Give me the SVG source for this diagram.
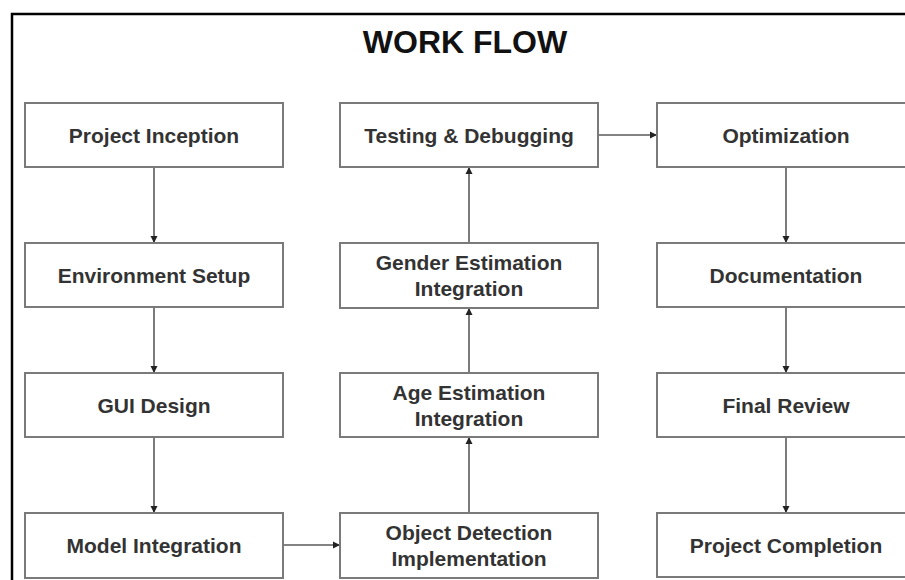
<svg xmlns="http://www.w3.org/2000/svg" width="905" height="580" viewBox="0 0 905 580">
<defs>
<style>
.box{fill:#fff;stroke:#7a7a7a;stroke-width:2}
.lbl{font-family:"Liberation Sans",Arial,sans-serif;font-weight:bold;font-size:21px;fill:#333;text-anchor:middle}
.title{font-family:"Liberation Sans",Arial,sans-serif;font-weight:bold;font-size:32px;fill:#111;text-anchor:middle}
.conn{stroke:#5a5a5a;stroke-width:1.6;fill:none;marker-end:url(#ah)}
</style>
<marker id="ah" viewBox="0 0 10 10" refX="10" refY="5" markerWidth="4.5" markerHeight="4.5" orient="auto" markerUnits="strokeWidth">
<path d="M0,0 L10,5 L0,10 z" fill="#222"/>
</marker>
</defs>
<rect width="905" height="580" fill="#fff"/>
<path d="M12,600 L12,14 L920,14" fill="none" stroke="#000" stroke-width="2.5"/>
<text class="title" x="465" y="53">WORK FLOW</text>

<g id="connectors">
<line class="conn" x1="154" y1="167" x2="154" y2="243"/>
<line class="conn" x1="154" y1="307" x2="154" y2="373"/>
<line class="conn" x1="154" y1="437" x2="154" y2="513"/>
<line class="conn" x1="283" y1="545" x2="340" y2="545"/>
<line class="conn" x1="469" y1="513" x2="469" y2="437"/>
<line class="conn" x1="469" y1="373" x2="469" y2="308"/>
<line class="conn" x1="469" y1="243" x2="469" y2="167"/>
<line class="conn" x1="598" y1="135" x2="657" y2="135"/>
<line class="conn" x1="786" y1="167" x2="786" y2="243"/>
<line class="conn" x1="786" y1="307" x2="786" y2="373"/>
<line class="conn" x1="786" y1="437" x2="786" y2="513"/>
</g>

<g id="project-inception"><rect class="box" x="25" y="103" width="258" height="64"/><text class="lbl" x="154" y="142.5">Project Inception</text></g>
<g id="environment-setup"><rect class="box" x="25" y="243" width="258" height="64"/><text class="lbl" x="154" y="282.5">Environment Setup</text></g>
<g id="gui-design"><rect class="box" x="25" y="373" width="258" height="64"/><text class="lbl" x="154" y="412.5">GUI Design</text></g>
<g id="model-integration"><rect class="box" x="25" y="513" width="258" height="65"/><text class="lbl" x="154" y="553">Model Integration</text></g>

<g id="testing-debugging"><rect class="box" x="340" y="103" width="258" height="64"/><text class="lbl" x="469" y="142.5">Testing &amp; Debugging</text></g>
<g id="gender-estimation"><rect class="box" x="340" y="243" width="258" height="65"/><text class="lbl" x="469" y="269.5">Gender Estimation</text><text class="lbl" x="469" y="295.5">Integration</text></g>
<g id="age-estimation"><rect class="box" x="340" y="373" width="258" height="64"/><text class="lbl" x="469" y="399.5">Age Estimation</text><text class="lbl" x="469" y="425.5">Integration</text></g>
<g id="object-detection"><rect class="box" x="340" y="513" width="258" height="65"/><text class="lbl" x="469" y="539.5">Object Detection</text><text class="lbl" x="469" y="565.5">Implementation</text></g>

<g id="optimization"><rect class="box" x="657" y="103" width="258" height="64"/><text class="lbl" x="786" y="142.5">Optimization</text></g>
<g id="documentation"><rect class="box" x="657" y="243" width="258" height="64"/><text class="lbl" x="786" y="282.5">Documentation</text></g>
<g id="final-review"><rect class="box" x="657" y="373" width="258" height="64"/><text class="lbl" x="786" y="412.5">Final Review</text></g>
<g id="project-completion"><rect class="box" x="657" y="513" width="258" height="64"/><text class="lbl" x="786" y="552.5">Project Completion</text></g>
</svg>
